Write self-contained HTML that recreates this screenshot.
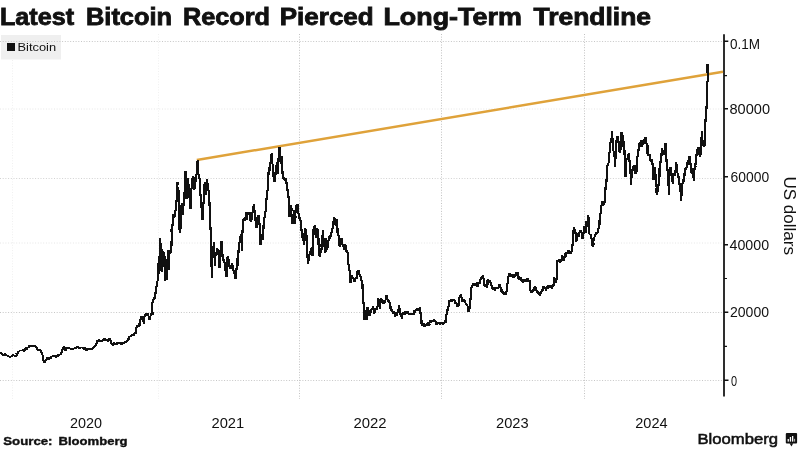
<!DOCTYPE html>
<html><head><meta charset="utf-8">
<style>
html,body{margin:0;padding:0;background:#fff;width:800px;height:450px;overflow:hidden;}
svg{display:block;will-change:transform;}
text{font-family:"Liberation Sans",sans-serif;}
</style></head><body>
<svg width="800" height="450" viewBox="0 0 800 450">
<rect width="800" height="450" fill="#fff"/>
<rect x="1" y="35" width="60" height="24.5" fill="#efefef"/>
<g stroke-width="1" fill="none">
<path stroke="#c6c6c6" stroke-dasharray="1 1.7" d="M0 41.5H723M0 312.5H723M0 380.5H723"/>
<path stroke="#d2d2d2" stroke-dasharray="1 1.7" d="M0 178.5H723"/>
<path stroke="#e6e6e6" stroke-dasharray="1 1.7" d="M0 109H723M0 243H723"/>
<path stroke="#c2c2c2" stroke-dasharray="1 1.64" d="M299.5 34V399M441.5 34V399M584.5 34V399"/>
<path stroke="#f0f0f0" stroke-dasharray="1 1.64" d="M12.5 60V399M158.5 34V399"/>
</g>
<rect x="7" y="43" width="8" height="8" fill="#111"/>
<text x="17.5" y="51.4" font-size="11.5" font-weight="normal" fill="#111" textLength="38.6" lengthAdjust="spacingAndGlyphs">Bitcoin</text>
<g font-size="24" font-weight="bold" fill="#111" stroke="#111" stroke-width="0.85"><text x="0.0" y="24.5" textLength="74.03" lengthAdjust="spacingAndGlyphs">Latest</text><text x="86" y="24.5" textLength="86.05" lengthAdjust="spacingAndGlyphs">Bitcoin</text><text x="183" y="24.5" textLength="87.05" lengthAdjust="spacingAndGlyphs">Record</text><text x="279.8" y="24.5" textLength="93.86" lengthAdjust="spacingAndGlyphs">Pierced</text><text x="383.4" y="24.5" textLength="138.44" lengthAdjust="spacingAndGlyphs">Long-Term</text><text x="533.6" y="24.5" textLength="117.4" lengthAdjust="spacingAndGlyphs">Trendline</text></g>
<path d="M724 34.3V396.6" stroke="#111" stroke-width="1.75"/>
<g stroke="#111" stroke-width="1.2">
<path stroke-width="1.6" d="M724 41.3H728.3M724 108.8H728M724 176.8H728M724 244.8H728M724 312.2H728.3M724 380.2H728.5"/>
<path stroke-width="1.1" d="M724 75.6H727M724 278.5H727M724 346.4H727"/>
</g>
<g><text x="730.0" y="48.75" font-size="15" font-weight="normal" fill="#111" textLength="30.1" lengthAdjust="spacingAndGlyphs">0.1M</text><text x="729.5" y="113.8" font-size="15" font-weight="normal" fill="#111" textLength="40.56" lengthAdjust="spacingAndGlyphs">80000</text><text x="730.5" y="181.9" font-size="15" font-weight="normal" fill="#111" textLength="38.61" lengthAdjust="spacingAndGlyphs">60000</text><text x="729.5" y="250" font-size="15" font-weight="normal" fill="#111" textLength="39.55" lengthAdjust="spacingAndGlyphs">40000</text><text x="730.0" y="317.2" font-size="15" font-weight="normal" fill="#111" textLength="39.03" lengthAdjust="spacingAndGlyphs">20000</text><text x="731.0" y="385.6" font-size="15" font-weight="normal" fill="#111" textLength="6.08" lengthAdjust="spacingAndGlyphs">0</text></g>
<text transform="translate(784,176.5) rotate(90)" font-size="17" fill="#111" textLength="78.5" lengthAdjust="spacingAndGlyphs">US dollars</text>
<g><text x="70.0" y="428" font-size="15" font-weight="normal" fill="#111" textLength="32.05" lengthAdjust="spacingAndGlyphs">2020</text><text x="211.5" y="428" font-size="15" font-weight="normal" fill="#111" textLength="32.69" lengthAdjust="spacingAndGlyphs">2021</text><text x="353.5" y="428" font-size="15" font-weight="normal" fill="#111" textLength="33.14" lengthAdjust="spacingAndGlyphs">2022</text><text x="496.0" y="428" font-size="15" font-weight="normal" fill="#111" textLength="32.62" lengthAdjust="spacingAndGlyphs">2023</text><text x="635.25" y="428" font-size="15" font-weight="normal" fill="#111" textLength="32.3" lengthAdjust="spacingAndGlyphs">2024</text></g>
<g font-size="10.6" font-weight="bold" fill="#111" stroke="#111" stroke-width="0.35"><text x="3.25" y="444.6" textLength="49.29" lengthAdjust="spacingAndGlyphs">Source:</text><text x="58.5" y="444.6" textLength="69.04" lengthAdjust="spacingAndGlyphs">Bloomberg</text></g>
<text x="697.5" y="444" font-size="15" font-weight="normal" fill="#111" stroke="#111" stroke-width="0.55" textLength="80.53" lengthAdjust="spacingAndGlyphs">Bloomberg</text>
<g>
<rect x="785.8" y="432.9" width="11.3" height="10.7" rx="1" fill="#111"/>
<path d="M789.5 443.2L791.5 446.6L793.2 443.2Z" fill="#111"/>
<g fill="#fff"><rect x="787.6" y="439" width="1.3" height="2.6"/><rect x="789.8" y="437" width="1.3" height="4.6"/><rect x="792" y="436" width="1.3" height="5.6"/><rect x="794.1" y="438.8" width="1" height="2.8" fill="#bbb"/></g>
</g>
<path d="M196.8 160L723 71.7" stroke="#dfa23a" stroke-width="2.5" fill="none"/>
<g fill="none" stroke="#111" stroke-width="1.15" stroke-linejoin="miter" stroke-miterlimit="3" shape-rendering="crispEdges"><path d="M0.0 351.9 0.5 352.2 0.5 352.8 1.2 353.0 1.3 353.3 2.1 354.2 2.5 355.0 2.6 355.3 3.0 355.0 3.4 354.1 3.9 354.8 4.6 353.9 5.0 354.4 5.3 353.8 6.1 354.8 6.1 355.0 6.5 355.3 7.3 355.6 7.5 355.6 8.0 356.1 8.2 356.5 8.4 356.2 8.9 356.4 9.4 356.5 10.0 356.9 10.5 356.3 11.1 356.1 11.4 356.3 11.7 356.1 12.4 356.3 12.5 355.6 13.3 355.7 12.9 355.3 13.3 355.0 14.0 355.8 14.6 356.2 14.8 355.9 15.3 355.9 15.6 355.4 16.1 355.2 16.2 355.6 17.0 354.8 16.6 354.0 17.5 354.1 18.0 352.8 18.1 353.1 18.3 351.4 18.5 351.4 19.2 351.9 19.3 351.3 20.0 350.6 20.6 350.7 20.7 350.7 21.5 350.6 21.7 350.7 22.4 350.4 22.5 350.0 22.7 350.6 23.2 349.5 24.0 349.6 23.7 351.1 24.4 350.6 24.6 350.0 25.2 349.3 25.6 348.1 25.6 347.9 26.3 347.8 27.1 347.6 27.3 348.5 27.5 348.1 28.1 347.2 28.0 347.3 29.0 347.8 29.4 346.5 29.3 346.1 30.0 346.2 30.5 346.4 30.6 346.3 31.0 346.0 31.3 345.7 31.8 345.8 32.5 345.6 32.5 346.1 33.6 346.2 33.6 345.8 34.0 345.8 34.9 345.9 35.0 346.2 35.8 346.9 35.4 346.7 35.8 347.8 36.8 348.0 36.9 348.8 37.0 349.3 37.7 350.5 37.7 349.9 38.4 349.7 38.8 350.0 39.5 350.1 39.3 350.7 39.8 349.9 40.3 350.8 40.6 350.6 41.3 352.1 41.7 352.3 41.9 353.1 42.7 355.6 43.0 358.1 43.1 360.0 43.7 360.7 43.9 362.0 44.4 363.1 44.4 362.6 45.0 361.7 45.6 360.6 46.2 359.7 46.8 358.9 46.9 357.5 47.7 357.9 47.4 358.6 47.8 358.6 48.5 359.1 48.8 359.4 49.5 359.2 49.7 358.8 50.2 357.9 50.7 358.1 51.1 357.7 51.2 356.9 51.4 356.8 52.3 356.1 52.9 355.8 52.8 356.5 53.5 355.2 53.8 355.6 53.9 356.1 54.9 356.0 55.2 356.1 55.8 356.5 56.0 356.8 56.2 356.2 56.4 355.9 56.7 356.2 57.5 356.2 58.3 355.4 58.6 354.5 58.8 355.0 58.9 355.0 59.4 354.6 60.1 354.7 60.1 354.2 61.2 354.4 61.2 353.8 61.7 352.1 62.4 351.2 62.5 349.4 62.9 348.0 63.3 348.7 63.6 347.9 63.8 347.4 64.4 346.9 64.5 349.0 65.2 349.6 65.6 350.6 65.8 349.9 66.4 348.8 66.4 347.8 67.2 347.6 67.5 347.5 68.1 347.6 68.3 348.3 69.1 347.4 69.1 347.9 69.6 348.0 70.0 348.8 70.6 348.5 70.8 348.5 71.6 349.4 72.0 349.3 71.9 348.8 72.5 350.0 73.2 348.3 73.0 348.5 73.4 349.0 74.0 348.7 74.8 348.7 75.0 347.5 75.7 347.9 76.0 347.8 76.0 348.0 76.4 348.2 77.4 346.3 77.5 346.9 78.3 346.5 78.6 347.5 78.8 347.8 79.0 348.2 79.8 348.1 80.0 348.1 80.0 348.6 80.4 347.7 81.1 347.8 81.3 347.6 82.5 347.6 82.5 348.1 82.6 348.5 83.1 347.3 83.6 349.3 83.9 349.3 84.8 348.3 85.0 349.4 85.2 349.7 85.8 350.0 86.3 350.1 86.7 349.5 86.8 349.2 87.4 350.1 87.9 349.7 87.7 349.8 88.7 349.5 88.8 348.8 89.2 348.6 89.9 349.0 90.0 349.1 90.2 349.4 90.5 349.6 91.2 349.4 91.4 349.3 92.3 348.7 92.3 348.8 92.8 347.9 92.9 347.8 93.8 347.5 94.4 347.0 94.6 346.6 95.3 346.2 95.1 346.0 95.8 345.3 96.2 344.4 97.0 342.3 97.2 341.1 97.7 340.3 98.3 341.0 98.5 340.0 98.8 341.2 98.7 339.9 99.4 340.0 99.5 340.4 100.0 341.3 100.3 341.2 101.2 341.9 101.5 341.7 101.7 341.1 101.9 340.8 102.4 340.8 102.6 340.5 103.5 340.3 103.3 340.2 103.9 338.9 104.6 339.1 104.2 339.1 104.9 340.0 105.1 339.0 105.7 339.8 106.1 340.0 106.1 340.6 106.8 340.3 107.0 340.4 107.4 340.5 108.1 339.9 108.3 340.6 108.9 339.8 109.1 339.6 109.4 338.6 110.0 339.4 110.5 340.6 110.8 341.7 111.1 342.8 111.8 344.4 112.1 344.4 112.1 344.4 112.8 345.0 113.2 343.8 113.8 343.4 114.2 344.2 114.4 343.2 114.8 343.3 115.0 343.9 115.1 343.7 115.6 343.8 116.1 344.5 116.6 344.3 116.8 343.0 117.2 343.3 117.2 342.7 118.0 343.6 118.4 342.6 118.9 343.3 118.9 343.4 119.7 344.0 119.6 344.0 120.2 343.8 120.6 343.9 120.9 342.5 121.6 342.6 121.9 343.6 122.0 343.4 122.5 343.3 123.1 343.4 123.1 342.9 123.9 343.3 124.4 343.3 124.8 342.8 125.0 342.0 125.3 341.4 126.0 341.1 126.1 341.1 126.2 340.9 126.4 341.9 127.2 340.6 127.5 341.1 127.7 339.2 128.3 340.0 128.4 339.0 129.1 339.3 129.4 336.7 130.1 337.2 129.9 336.9 130.9 336.4 131.1 334.9 131.3 335.3 131.7 335.0 131.7 335.8 132.4 335.8 132.7 334.8 133.1 334.8 133.9 334.8 134.3 335.4 134.4 333.9 134.5 333.4 135.5 333.5 135.6 331.7 136.1 328.0 136.3 327.3 137.3 326.6 137.3 327.3 137.4 325.9 138.0 326.0 138.0 326.1 138.6 326.4 139.5 325.8 139.5 324.0 140.0 320.0 140.4 319.5 140.5 319.3 141.4 316.2 141.5 317.0 142.1 318.7 142.6 316.3 142.7 316.1 143.0 318.0 143.5 319.6 143.6 321.6 144.0 324.0 144.2 321.3 144.3 317.3 145.0 316.0 145.3 315.5 145.5 314.5 146.0 314.0 146.8 313.7 146.6 315.9 147.2 314.6 147.5 315.0 147.8 314.5 148.0 315.6 148.9 316.3 149.0 316.0 149.5 320.0 150.0 317.0 150.7 315.6 151.1 315.2 151.0 314.5 151.1 313.8 151.4 314.3 151.9 313.9 152.5 314.0 152.3 308.0 152.5 302.0 152.6 301.7 153.4 299.0 153.5 300.0 153.8 297.9 154.2 297.4 154.5 299.0 155.0 298.0 155.5 293.0 156.0 287.0 156.8 286.3 156.8 283.3 156.8 283.2 157.8 279.9 157.8 281.0 158.1 266.4 158.3 263.7 159.0 262.0 159.4 273.5 159.7 246.0 159.9 241.8 160.3 238.3 160.8 262.0 161.3 243.0 161.6 272.0 162.0 249.3 162.4 251.3 163.2 252.2 163.3 251.0 163.3 252.2 164.0 254.0 164.3 267.0 165.0 264.3 165.0 256.0 165.2 280.6 165.7 259.0 166.1 271.0 166.5 276.4 167.0 279.8 167.3 272.1 167.7 264.0 168.3 257.0 168.3 250.0 168.8 270.0 169.3 253.0 170.0 254.2 170.0 252.0 170.2 250.0 170.9 251.8 171.3 251.3 171.7 236.0 171.5 229.0 172.0 227.2 172.4 227.3 172.8 220.1 173.0 218.0 173.0 214.1 174.0 216.7 174.2 216.4 174.5 215.0 174.7 216.4 175.3 214.2 175.5 210.0 176.0 209.0 176.2 205.2 176.5 201.0 176.9 195.6 177.2 186.9 177.5 182.0 177.4 187.4 178.5 189.8 178.5 195.0 179.0 215.0 179.4 223.4 179.5 229.5 180.0 233.0 180.1 227.4 180.5 227.7 181.0 220.0 181.0 214.1 181.6 204.7 182.0 203.0 182.1 206.2 182.4 207.9 183.0 215.0 183.0 205.9 183.8 205.7 184.0 205.0 184.1 198.5 184.8 189.8 184.9 175.0 185.5 171.0 186.1 182.1 186.0 189.5 186.5 199.0 186.7 196.8 187.5 198.0 187.5 190.0 188.0 178.0 188.2 181.8 188.7 187.4 188.8 188.6 189.5 197.0 189.7 195.5 189.9 205.4 190.5 209.0 191.0 190.0 191.0 191.5 192.0 186.5 192.0 178.0 192.7 179.6 193.1 177.0 193.0 175.8 193.5 177.5 194.1 181.1 193.9 189.9 194.5 185.9 195.0 189.0 195.2 182.7 195.6 181.1 196.0 177.9 196.5 174.0 197.2 171.3 196.9 165.2 197.5 161.0 198.1 160.4 198.2 171.5 198.5 175.0 199.0 174.0 199.7 180.6 200.0 184.7 200.0 188.0 200.0 195.6 201.0 193.7 200.8 204.2 201.5 207.0 202.2 212.6 202.0 216.1 202.5 220.0 202.7 214.3 203.0 203.0 203.5 203.0 203.7 200.3 204.4 192.0 204.2 186.2 205.0 182.0 205.5 188.3 206.0 194.6 206.0 195.0 206.0 188.4 207.0 184.4 207.0 179.0 207.7 185.2 207.7 183.5 208.1 188.5 208.5 190.0 209.1 197.6 209.4 201.1 209.7 209.2 210.0 213.0 210.5 229.0 210.8 231.4 211.3 240.0 211.7 278.0 212.3 265.3 212.5 255.0 212.5 253.2 213.0 249.9 213.3 248.8 214.0 242.0 214.2 252.8 215.1 258.4 215.0 265.0 215.1 265.9 215.3 255.5 216.0 255.0 216.5 254.0 216.6 251.9 217.0 248.0 217.5 249.8 217.9 252.7 218.3 252.1 218.5 253.0 218.5 254.4 219.2 263.1 219.5 268.0 219.7 262.4 220.0 259.0 220.5 255.0 220.6 248.9 221.2 247.8 221.5 241.0 221.7 249.6 222.2 246.1 222.5 255.0 222.7 259.8 223.6 260.5 223.3 258.8 224.0 263.0 224.6 261.8 225.1 264.8 224.8 267.4 225.5 267.0 225.6 271.0 226.5 275.9 226.5 277.0 226.7 270.4 227.0 265.0 227.5 257.0 228.1 256.7 228.3 259.6 228.7 259.8 229.0 261.0 229.1 263.1 229.5 266.2 230.2 266.5 230.5 268.0 230.6 269.2 231.4 268.0 231.4 265.5 232.0 264.0 232.6 265.2 232.8 268.0 233.0 269.4 233.5 270.0 233.9 272.3 234.0 273.2 234.9 274.8 234.9 276.0 235.5 279.0 236.2 275.8 236.1 270.9 236.5 268.0 236.8 268.9 237.1 269.1 237.5 265.0 237.6 257.2 237.8 256.0 238.5 253.0 238.7 245.0 239.5 242.7 239.5 241.7 240.0 243.0 240.5 237.0 241.1 237.4 240.8 234.6 241.5 235.0 242.0 251.0 242.5 231.0 242.9 228.4 242.9 222.2 243.7 218.6 244.0 220.0 244.1 217.6 244.6 221.1 244.9 217.6 245.6 217.6 246.0 219.0 246.2 219.6 246.5 211.6 247.2 220.4 247.2 212.8 248.0 213.0 248.7 214.4 248.9 212.3 249.4 213.5 249.4 211.8 250.0 213.0 250.6 211.6 250.4 220.2 251.0 221.0 251.4 219.6 251.7 219.2 252.3 216.2 252.5 212.0 253.2 211.8 253.5 211.7 253.3 207.6 254.0 204.0 254.4 210.0 254.7 213.1 255.0 219.0 255.3 219.6 255.8 221.7 256.1 222.3 256.5 228.0 256.8 225.2 257.2 224.2 257.5 217.0 257.7 218.0 258.2 217.1 258.4 214.6 259.0 216.0 259.0 218.7 259.6 225.1 260.0 230.0 260.5 245.0 261.0 239.0 261.3 239.3 261.3 237.4 262.0 234.0 262.5 235.7 262.9 237.3 263.0 240.0 263.3 231.8 263.6 225.1 264.0 218.0 264.7 217.7 265.1 214.8 264.9 212.9 265.5 212.0 266.0 205.0 266.7 196.9 267.0 194.5 267.0 196.0 267.1 191.7 267.8 190.0 268.0 184.4 268.0 183.0 268.6 172.2 269.4 174.8 269.4 173.3 269.5 167.8 270.0 166.7 270.4 163.6 271.2 158.3 271.3 157.0 271.7 153.3 271.9 159.7 272.2 163.3 272.8 164.4 273.3 175.6 274.0 178.7 273.8 177.4 274.4 182.2 275.0 172.4 275.3 177.1 275.6 172.2 275.9 171.8 276.4 169.1 276.7 162.2 277.4 163.2 277.5 173.8 277.8 172.2 278.3 157.8 278.6 159.5 279.4 153.2 279.4 147.2 279.9 150.1 280.2 153.1 280.6 162.2 280.7 163.6 281.6 158.5 281.7 155.6 282.2 172.2 282.4 173.6 283.0 170.7 283.3 178.9 283.9 177.3 283.8 177.8 284.3 179.6 285.0 180.0 285.4 178.4 286.2 178.4 286.4 182.6 286.7 182.2 286.7 186.6 287.1 190.5 287.8 190.0 288.0 193.7 288.5 196.0 289.0 208.0 289.4 211.3 289.4 216.8 290.0 216.0 290.5 205.0 290.6 206.6 291.6 208.6 291.3 213.6 292.0 217.0 292.4 220.3 292.6 224.2 293.0 223.0 293.1 216.2 293.7 217.5 294.0 210.0 294.2 215.6 295.0 217.9 295.0 224.0 295.5 216.6 295.3 213.6 296.0 209.0 296.4 210.4 296.4 206.0 297.3 206.3 297.5 204.0 298.2 210.6 298.0 211.0 298.6 214.3 299.0 216.0 299.4 219.4 299.5 218.6 300.0 218.0 300.2 218.2 300.9 223.4 301.0 222.0 301.5 229.7 301.9 237.5 302.0 238.0 302.3 237.4 302.4 234.8 303.0 233.0 303.0 234.6 303.5 240.6 304.0 245.0 304.5 240.5 304.8 233.6 305.0 230.0 305.1 228.6 305.9 230.2 306.0 235.0 306.4 235.3 307.0 237.8 307.0 240.0 307.1 250.8 307.5 256.8 308.0 264.0 308.2 261.7 308.9 259.3 309.0 253.8 309.5 255.0 309.7 253.8 310.6 250.9 310.8 248.2 311.0 249.0 311.8 248.0 311.9 248.3 312.4 254.1 312.5 256.0 312.9 244.6 313.0 240.0 313.5 231.0 313.5 230.4 314.6 231.4 314.3 227.5 315.0 225.0 315.7 230.0 315.3 233.1 316.0 238.0 316.0 236.7 316.9 232.6 317.3 228.0 317.5 229.0 317.7 234.5 318.4 237.3 318.5 239.0 318.5 245.4 319.5 244.0 319.3 255.2 320.0 256.0 320.1 252.5 321.0 252.5 321.4 251.1 321.5 249.0 322.0 241.7 322.1 236.0 322.8 234.8 323.0 230.0 323.1 234.6 323.4 237.2 323.9 243.9 324.5 246.0 324.7 247.7 325.0 253.1 325.5 252.0 326.0 238.0 326.6 244.8 326.8 245.4 327.0 249.0 327.3 248.8 328.0 245.3 328.2 240.5 328.5 240.0 328.6 241.3 329.5 239.1 329.4 236.5 330.0 236.0 330.6 236.4 331.1 234.3 331.1 235.7 331.5 232.0 332.1 230.4 332.1 228.7 332.9 228.1 333.0 223.0 333.2 221.4 333.4 224.4 334.0 217.5 334.1 219.4 334.9 218.1 335.3 225.4 335.5 224.0 336.1 225.4 336.1 220.3 336.5 220.0 336.7 222.2 337.5 228.4 337.5 232.0 337.5 233.0 338.6 235.4 338.6 238.2 339.0 238.0 339.1 237.8 339.6 245.8 340.0 246.0 340.6 241.0 340.9 240.7 340.8 238.6 341.5 238.0 342.1 241.6 341.9 241.1 342.5 245.0 342.8 243.7 343.0 246.8 343.6 245.3 344.0 249.0 344.2 249.0 344.6 246.9 344.9 245.9 345.3 244.7 346.0 246.0 346.4 246.9 346.4 251.0 347.0 251.0 347.7 253.1 347.8 256.7 348.0 258.0 348.0 264.0 348.6 265.2 349.0 264.0 349.5 270.8 349.6 270.4 350.0 273.0 350.5 283.0 350.5 281.1 350.9 280.0 351.5 275.0 351.8 276.1 352.5 277.3 352.7 277.4 353.0 279.0 353.4 277.9 353.7 280.4 354.4 281.1 354.7 281.1 355.0 280.0 355.6 278.9 356.0 277.7 356.5 278.5 356.9 278.0 357.0 277.0 357.5 272.6 357.5 271.4 358.0 271.0 358.5 270.0 359.0 273.6 359.3 274.5 359.5 274.0 359.8 274.9 360.2 276.0 360.8 277.1 361.0 280.0 361.7 280.2 362.0 283.6 362.0 286.6 362.5 286.0 362.5 288.4 363.2 296.9 363.5 303.0 364.0 310.0 364.5 320.0 365.2 317.5 365.2 315.0 365.5 310.0 365.9 314.8 366.3 317.7 366.5 320.0 367.1 314.8 367.2 311.6 367.5 308.0 367.6 307.0 368.3 310.3 368.5 310.0 368.5 310.8 369.6 314.8 369.5 316.0 369.7 314.5 370.2 313.3 370.6 312.6 371.0 310.0 371.6 309.7 371.6 308.4 372.4 308.8 372.4 309.0 373.0 307.0 373.6 308.3 373.5 309.4 374.3 311.8 374.5 313.0 374.9 312.6 375.3 309.7 375.5 310.2 376.0 309.0 376.5 309.9 376.7 309.4 377.0 306.0 377.5 307.0 378.0 299.0 378.6 299.4 378.6 301.3 379.0 303.0 379.2 305.5 379.5 306.4 380.0 309.0 379.9 304.5 380.8 301.8 381.0 298.0 381.2 298.9 381.7 300.9 382.3 299.6 382.5 302.0 382.8 302.7 382.9 304.0 383.9 302.2 384.0 303.0 384.1 303.9 385.0 300.6 384.7 300.4 385.5 300.0 386.2 298.6 385.9 297.2 386.3 295.7 387.0 295.5 387.3 296.7 387.5 299.9 387.9 301.0 388.5 300.0 389.2 301.2 389.4 302.3 389.9 304.4 390.0 308.0 390.1 308.7 390.9 307.0 391.1 307.4 391.5 310.0 392.2 310.0 392.0 310.6 392.3 311.8 393.0 313.0 393.4 312.6 393.5 312.9 394.2 312.1 394.9 312.8 395.0 313.0 395.3 315.7 395.8 315.0 396.0 314.4 396.5 316.0 396.8 312.7 397.4 313.0 397.7 311.4 398.0 310.0 398.5 309.8 399.0 307.2 399.0 305.0 399.3 306.3 399.7 312.7 400.0 313.0 400.5 314.7 400.9 315.0 401.0 315.0 401.5 317.0 401.9 317.5 402.0 313.6 402.6 313.4 403.0 313.0 403.7 312.1 403.6 313.8 404.2 314.2 404.4 313.0 405.0 314.0 405.5 311.1 406.0 312.5 406.0 312.2 406.7 313.1 407.0 312.0 407.0 311.3 408.0 311.2 407.8 313.9 408.4 312.9 409.0 314.0 409.7 314.7 409.9 314.5 410.5 313.7 410.7 313.1 411.0 315.0 411.6 313.6 411.9 313.6 412.4 314.2 412.6 313.9 412.8 314.5 413.5 314.5 413.5 313.3 414.4 313.4 414.6 310.2 415.1 312.1 415.5 311.0 415.7 309.1 416.1 309.8 416.6 311.2 417.0 310.0 417.0 309.0 417.8 309.0 418.4 310.1 418.5 310.0 418.9 309.6 418.9 310.1 419.5 308.1 420.0 308.0 420.5 313.0 421.2 312.8 421.1 316.7 421.4 319.6 421.7 325.6 422.2 324.4 422.3 324.5 422.5 324.0 423.3 323.3 423.8 323.8 423.7 325.7 424.7 326.3 425.0 325.3 425.0 325.4 425.6 325.6 425.6 325.4 426.6 324.7 426.9 324.5 426.7 323.5 427.4 323.5 427.8 324.4 428.5 322.8 428.7 323.4 428.5 325.3 429.5 324.6 429.3 323.0 430.0 322.2 430.1 321.6 431.0 323.1 431.0 321.6 431.5 321.5 431.5 320.2 432.2 321.1 432.8 321.2 433.0 319.9 433.2 321.4 434.0 319.3 434.3 321.0 434.4 320.0 434.5 320.3 435.6 321.2 435.5 321.9 436.1 323.3 436.6 322.4 437.0 324.8 437.1 323.6 437.6 322.4 438.2 324.2 438.7 322.4 438.9 323.9 439.1 322.4 439.7 324.2 440.2 323.8 440.2 324.3 441.2 322.4 441.4 323.8 441.6 322.4 442.2 323.3 442.7 323.8 443.3 321.8 443.4 322.3 443.9 322.8 444.4 322.9 444.3 323.7 444.8 321.3 445.0 320.9 445.6 321.7 446.1 315.6 446.7 313.5 446.8 313.6 447.2 310.0 447.8 310.9 447.7 310.0 448.3 307.8 449.0 304.1 449.1 302.5 449.4 302.2 449.6 299.9 450.0 301.3 450.6 301.8 451.1 300.6 451.5 301.6 451.6 299.4 451.8 300.7 452.3 301.1 453.0 299.8 453.3 299.4 453.8 300.1 453.9 299.7 454.1 300.4 455.2 301.2 455.3 302.6 455.6 302.2 455.8 302.3 456.8 304.2 457.0 303.9 457.2 306.1 457.4 307.0 457.7 304.6 458.1 305.4 458.9 305.6 458.9 303.1 459.6 297.1 460.0 296.1 460.8 295.1 460.9 297.1 461.2 297.2 461.7 297.8 461.9 301.2 462.5 302.1 462.8 301.1 463.3 299.6 463.5 299.6 464.4 299.6 464.4 300.6 465.2 301.3 465.1 302.0 465.6 303.0 466.1 303.3 466.8 306.3 466.6 304.0 467.5 306.1 467.8 306.7 468.3 312.2 469.1 309.5 469.2 310.2 469.4 308.9 470.2 305.5 470.3 301.1 470.6 297.8 471.1 290.0 471.8 286.3 472.0 285.0 472.2 285.6 472.5 285.6 473.0 283.7 473.3 284.2 474.0 284.0 474.6 283.7 474.6 283.4 475.0 285.1 475.9 284.6 476.0 283.0 476.1 285.8 476.8 282.0 477.5 286.1 477.7 286.1 478.0 285.0 478.7 283.8 478.8 284.4 479.0 283.3 479.2 282.7 480.0 283.0 480.0 280.8 481.0 277.6 481.0 278.0 481.1 276.9 481.6 278.5 481.9 277.6 482.5 276.0 482.9 275.7 482.9 275.9 484.0 280.1 484.0 279.0 484.5 284.9 484.4 285.5 485.0 286.0 485.2 285.4 485.5 286.5 486.5 284.9 486.5 287.0 487.2 287.5 487.5 283.9 487.5 280.0 487.5 281.3 488.7 280.4 488.3 279.3 488.8 281.0 489.5 281.0 489.5 280.5 490.0 283.2 490.6 281.8 491.0 284.0 491.4 285.6 491.5 285.6 492.3 288.0 492.5 288.0 492.7 290.0 493.4 289.4 493.7 289.1 494.2 288.8 494.5 289.0 495.1 289.9 495.1 289.9 495.4 287.9 496.3 288.5 496.5 289.0 496.5 287.2 497.5 288.7 497.9 287.1 498.0 288.0 498.7 286.5 498.7 285.9 498.9 285.8 499.5 284.0 500.1 284.6 500.1 285.8 500.7 288.2 501.0 289.0 501.4 291.4 501.8 290.6 502.5 292.5 502.9 293.0 503.0 292.0 503.3 291.7 504.0 294.0 504.5 294.0 504.5 293.0 504.8 295.3 505.2 293.0 505.5 295.0 505.5 293.6 506.0 293.9 506.3 292.0 507.0 291.0 507.0 287.0 507.3 285.8 508.0 279.0 508.0 278.0 508.8 275.6 509.3 273.3 509.5 274.0 509.6 273.5 509.9 277.0 510.3 274.7 511.0 277.0 511.2 274.4 511.5 275.8 512.3 275.0 512.9 275.7 513.0 275.0 513.6 276.5 513.5 277.1 514.1 277.1 514.5 273.9 515.0 276.0 515.3 276.0 516.2 273.4 516.0 274.4 516.5 272.5 517.0 273.5 517.6 272.4 518.0 276.7 518.0 277.0 518.0 278.8 518.8 275.9 519.0 280.1 519.5 278.2 520.0 279.0 520.4 278.1 520.5 278.1 520.8 277.9 521.3 280.2 522.0 280.0 522.7 282.6 522.9 280.6 523.5 282.1 523.2 278.9 524.0 281.5 524.5 280.1 524.6 280.1 525.3 279.9 525.4 279.9 526.0 281.0 526.7 278.4 526.6 279.1 526.8 278.2 527.5 278.5 528.0 281.1 528.1 281.9 528.6 280.3 529.0 281.0 529.0 280.1 529.4 280.6 530.0 281.0 530.5 291.0 530.7 290.6 531.0 292.0 531.9 292.0 532.0 291.0 532.5 292.0 532.6 289.9 533.4 289.9 533.7 289.9 534.0 291.0 534.4 289.8 534.5 288.1 535.1 288.2 535.5 286.0 535.4 286.4 536.0 290.3 536.5 291.0 536.9 292.1 537.3 291.0 537.5 290.9 538.3 293.5 538.5 292.5 539.2 293.9 539.2 293.9 539.6 295.0 540.0 294.0 540.6 294.0 541.2 293.3 541.4 292.4 541.5 291.7 542.0 290.0 542.5 290.8 543.1 287.4 543.2 286.9 543.8 287.8 544.0 288.0 544.4 286.9 545.1 288.8 544.9 287.1 545.8 289.3 546.0 290.0 546.5 289.2 546.9 285.9 547.1 287.5 547.7 288.1 548.0 287.0 548.3 285.6 549.0 285.6 549.0 286.9 549.5 285.6 549.8 287.7 550.3 287.6 550.7 285.6 551.1 286.7 551.2 286.7 552.0 287.8 552.7 286.4 552.8 286.7 553.0 284.8 553.9 285.2 553.9 282.2 554.0 279.0 554.2 277.8 555.0 278.9 555.0 281.2 556.1 280.4 556.1 283.3 556.6 279.0 556.7 276.7 556.8 266.7 557.1 261.0 557.5 261.0 557.8 262.2 558.1 260.6 558.7 259.9 559.1 259.9 559.4 261.1 559.8 262.3 560.1 262.3 560.6 262.0 561.3 258.8 561.3 258.8 561.7 260.0 562.5 256.8 562.3 259.6 562.5 256.6 563.0 257.2 563.5 261.2 563.9 257.8 564.0 256.5 564.9 257.2 565.0 253.3 565.8 253.1 565.5 256.8 566.1 256.7 566.4 254.5 566.7 252.0 567.1 252.7 567.8 252.2 568.1 251.0 569.0 251.0 568.9 252.2 569.4 253.3 570.1 252.1 569.9 251.0 570.5 254.3 571.1 251.1 571.6 252.3 571.6 247.8 572.2 248.9 572.3 244.3 572.8 245.6 572.9 237.2 573.4 234.6 573.7 228.0 574.0 228.3 574.4 229.4 575.0 230.9 574.9 232.7 575.6 232.8 576.1 241.7 576.5 240.7 577.1 238.3 577.2 235.0 577.3 233.7 577.7 233.7 578.6 236.3 578.9 237.2 579.1 233.0 579.3 233.3 580.0 230.6 580.7 232.8 580.8 230.2 581.2 230.9 581.7 232.8 582.1 238.4 582.8 238.1 582.8 237.2 583.0 232.3 583.2 232.9 583.9 234.0 584.4 227.2 585.1 228.0 585.3 231.5 585.6 232.8 586.3 227.8 586.1 221.4 586.7 222.8 587.0 223.2 587.3 225.2 587.8 227.2 588.3 215.0 588.9 222.1 588.9 232.8 589.1 231.4 589.5 234.0 590.6 234.3 590.6 236.1 590.8 238.4 591.4 238.1 591.7 239.7 592.2 241.7 592.2 243.5 592.8 246.7 593.5 244.6 593.4 241.1 593.8 240.7 594.4 237.2 595.0 236.1 595.1 235.1 595.3 235.2 596.1 231.7 596.3 234.1 596.9 233.5 597.6 231.8 597.8 232.8 598.0 231.2 598.7 227.8 598.9 227.2 599.0 220.0 600.0 225.4 600.0 219.4 600.3 215.0 600.6 212.8 601.1 207.2 601.2 205.4 602.2 203.6 602.2 202.8 602.6 201.4 603.0 202.5 603.3 205.0 603.4 205.0 604.0 204.0 604.4 201.7 604.7 201.6 605.0 203.0 605.5 189.0 605.7 185.2 606.3 188.0 606.5 180.0 607.0 172.0 607.2 168.2 607.3 165.9 608.0 165.0 608.2 163.3 608.8 162.9 609.0 152.0 609.3 153.7 609.8 151.4 610.0 145.6 610.5 143.0 610.7 141.4 611.1 141.5 611.5 139.2 612.0 131.0 612.6 142.2 613.0 138.2 613.0 145.0 613.0 149.0 613.9 152.4 614.1 151.3 614.5 155.0 615.0 167.0 615.5 158.4 615.9 154.2 616.0 150.0 616.2 143.5 616.4 140.5 617.0 139.0 617.7 136.4 617.3 137.0 618.0 137.5 618.0 135.7 618.6 143.4 619.1 148.3 619.7 152.5 620.0 152.0 620.1 150.4 620.8 148.8 621.0 143.0 621.1 136.5 621.5 132.2 622.0 134.0 622.0 137.1 622.6 141.5 622.8 135.2 623.5 142.0 623.5 147.1 624.0 144.5 624.5 151.0 625.0 172.0 625.5 177.0 626.0 168.0 626.5 158.0 626.6 159.7 627.6 159.7 627.8 155.9 628.0 154.0 628.3 154.5 628.6 157.1 628.8 152.8 629.5 161.0 630.0 167.0 630.7 174.9 630.8 178.3 631.0 185.0 631.4 179.4 631.6 169.0 632.0 170.0 632.3 171.6 632.8 170.4 633.3 169.0 633.5 166.0 633.5 167.2 634.1 167.2 634.7 164.6 635.0 172.0 635.4 173.6 635.5 171.8 636.1 173.6 636.5 172.0 637.0 159.0 637.1 158.5 637.9 154.2 638.3 153.9 638.5 150.0 638.8 148.2 639.1 148.1 639.5 143.0 639.7 144.8 640.6 141.9 640.5 144.8 641.0 142.0 641.6 146.8 641.5 140.2 642.3 141.4 642.5 145.0 643.1 140.1 643.5 139.9 643.5 143.6 644.0 141.0 644.1 142.3 644.5 142.3 645.3 139.8 645.5 137.0 645.7 137.6 646.1 141.3 646.5 143.0 646.5 142.6 646.8 146.4 647.5 146.0 647.5 154.2 648.4 150.9 648.3 155.7 649.0 154.0 649.4 155.6 649.8 154.4 649.8 158.1 650.7 161.7 651.0 160.0 651.7 159.3 651.5 159.7 651.8 159.8 652.5 163.0 653.0 178.0 653.6 179.6 653.5 177.9 654.0 175.0 654.6 174.5 655.0 174.4 655.0 167.0 655.6 176.0 655.9 183.1 656.0 183.0 656.6 187.2 656.5 192.7 657.0 195.0 657.3 190.4 658.0 192.3 658.2 188.0 658.5 185.0 658.9 180.7 659.5 176.6 659.5 169.0 660.2 162.8 659.9 161.3 660.5 163.0 660.7 159.8 661.3 156.9 661.5 156.0 661.6 153.0 661.8 148.2 662.5 150.0 662.5 152.2 663.4 149.7 663.2 152.7 664.0 153.0 664.6 154.7 664.6 148.2 665.0 150.0 665.5 143.5 666.0 158.0 666.3 156.6 666.6 161.7 667.0 160.0 667.5 170.0 668.0 173.7 668.4 182.0 668.5 184.0 669.0 195.0 669.5 173.0 669.7 173.5 670.1 169.0 670.5 168.0 670.6 167.1 670.8 170.3 671.5 174.0 672.2 174.8 672.5 182.0 672.5 182.0 673.2 183.6 673.3 173.4 673.8 176.1 674.0 175.0 674.5 173.1 675.1 172.1 675.1 176.4 675.5 172.0 676.0 162.0 676.2 163.8 677.0 164.9 677.0 170.0 677.5 173.1 677.7 173.7 678.0 177.6 678.5 176.0 678.9 181.6 679.3 178.4 679.5 184.8 680.0 186.0 680.6 192.3 680.7 196.8 681.0 200.0 681.1 201.2 681.3 198.0 682.0 190.0 682.3 185.4 682.7 182.6 683.0 180.0 683.1 179.4 683.8 181.6 684.1 176.7 684.5 176.0 684.5 173.3 685.2 168.3 685.5 170.0 686.0 169.4 686.6 166.8 686.8 163.2 687.0 163.0 687.3 164.7 687.5 164.7 688.3 164.7 688.5 162.0 688.5 160.0 689.0 158.2 689.5 156.0 689.7 157.2 689.9 164.7 690.5 163.0 690.7 167.6 691.5 169.0 691.5 173.0 692.0 168.9 692.6 173.7 692.9 168.3 693.0 170.0 693.2 175.1 693.9 180.6 694.0 179.0 694.0 174.5 694.6 168.3 695.0 170.0 695.5 166.5 695.3 163.3 696.0 165.0 696.5 155.0 696.9 150.0 697.4 149.4 697.5 149.0 698.0 150.7 698.0 150.7 698.5 147.0 699.1 151.6 699.2 154.7 699.5 153.0 700.0 157.0 700.0 156.0 700.9 153.1 701.0 150.0 701.3 145.0 701.8 131.5 702.0 137.8 702.5 140.0 703.0 146.4 703.5 142.8 703.5 145.0 704.0 146.6 704.7 143.5 704.8 146.0 705.1 122.0 705.1 119.6 705.9 121.5 706.0 109.0 706.5 106.5 706.9 108.5 707.0 81.0 707.7 82.4 707.5 81.4 708.2 80.5 708.2 72.5 708.1 71.4 707.5 72.5 707.5 63.5" transform="translate(-0.5,0)"/><path d="M0.0 351.9 0.5 352.2 0.5 352.8 1.2 353.0 1.3 353.3 2.1 354.2 2.5 355.0 2.6 355.3 3.0 355.0 3.4 354.1 3.9 354.8 4.6 353.9 5.0 354.4 5.3 353.8 6.1 354.8 6.1 355.0 6.5 355.3 7.3 355.6 7.5 355.6 8.0 356.1 8.2 356.5 8.4 356.2 8.9 356.4 9.4 356.5 10.0 356.9 10.5 356.3 11.1 356.1 11.4 356.3 11.7 356.1 12.4 356.3 12.5 355.6 13.3 355.7 12.9 355.3 13.3 355.0 14.0 355.8 14.6 356.2 14.8 355.9 15.3 355.9 15.6 355.4 16.1 355.2 16.2 355.6 17.0 354.8 16.6 354.0 17.5 354.1 18.0 352.8 18.1 353.1 18.3 351.4 18.5 351.4 19.2 351.9 19.3 351.3 20.0 350.6 20.6 350.7 20.7 350.7 21.5 350.6 21.7 350.7 22.4 350.4 22.5 350.0 22.7 350.6 23.2 349.5 24.0 349.6 23.7 351.1 24.4 350.6 24.6 350.0 25.2 349.3 25.6 348.1 25.6 347.9 26.3 347.8 27.1 347.6 27.3 348.5 27.5 348.1 28.1 347.2 28.0 347.3 29.0 347.8 29.4 346.5 29.3 346.1 30.0 346.2 30.5 346.4 30.6 346.3 31.0 346.0 31.3 345.7 31.8 345.8 32.5 345.6 32.5 346.1 33.6 346.2 33.6 345.8 34.0 345.8 34.9 345.9 35.0 346.2 35.8 346.9 35.4 346.7 35.8 347.8 36.8 348.0 36.9 348.8 37.0 349.3 37.7 350.5 37.7 349.9 38.4 349.7 38.8 350.0 39.5 350.1 39.3 350.7 39.8 349.9 40.3 350.8 40.6 350.6 41.3 352.1 41.7 352.3 41.9 353.1 42.7 355.6 43.0 358.1 43.1 360.0 43.7 360.7 43.9 362.0 44.4 363.1 44.4 362.6 45.0 361.7 45.6 360.6 46.2 359.7 46.8 358.9 46.9 357.5 47.7 357.9 47.4 358.6 47.8 358.6 48.5 359.1 48.8 359.4 49.5 359.2 49.7 358.8 50.2 357.9 50.7 358.1 51.1 357.7 51.2 356.9 51.4 356.8 52.3 356.1 52.9 355.8 52.8 356.5 53.5 355.2 53.8 355.6 53.9 356.1 54.9 356.0 55.2 356.1 55.8 356.5 56.0 356.8 56.2 356.2 56.4 355.9 56.7 356.2 57.5 356.2 58.3 355.4 58.6 354.5 58.8 355.0 58.9 355.0 59.4 354.6 60.1 354.7 60.1 354.2 61.2 354.4 61.2 353.8 61.7 352.1 62.4 351.2 62.5 349.4 62.9 348.0 63.3 348.7 63.6 347.9 63.8 347.4 64.4 346.9 64.5 349.0 65.2 349.6 65.6 350.6 65.8 349.9 66.4 348.8 66.4 347.8 67.2 347.6 67.5 347.5 68.1 347.6 68.3 348.3 69.1 347.4 69.1 347.9 69.6 348.0 70.0 348.8 70.6 348.5 70.8 348.5 71.6 349.4 72.0 349.3 71.9 348.8 72.5 350.0 73.2 348.3 73.0 348.5 73.4 349.0 74.0 348.7 74.8 348.7 75.0 347.5 75.7 347.9 76.0 347.8 76.0 348.0 76.4 348.2 77.4 346.3 77.5 346.9 78.3 346.5 78.6 347.5 78.8 347.8 79.0 348.2 79.8 348.1 80.0 348.1 80.0 348.6 80.4 347.7 81.1 347.8 81.3 347.6 82.5 347.6 82.5 348.1 82.6 348.5 83.1 347.3 83.6 349.3 83.9 349.3 84.8 348.3 85.0 349.4 85.2 349.7 85.8 350.0 86.3 350.1 86.7 349.5 86.8 349.2 87.4 350.1 87.9 349.7 87.7 349.8 88.7 349.5 88.8 348.8 89.2 348.6 89.9 349.0 90.0 349.1 90.2 349.4 90.5 349.6 91.2 349.4 91.4 349.3 92.3 348.7 92.3 348.8 92.8 347.9 92.9 347.8 93.8 347.5 94.4 347.0 94.6 346.6 95.3 346.2 95.1 346.0 95.8 345.3 96.2 344.4 97.0 342.3 97.2 341.1 97.7 340.3 98.3 341.0 98.5 340.0 98.8 341.2 98.7 339.9 99.4 340.0 99.5 340.4 100.0 341.3 100.3 341.2 101.2 341.9 101.5 341.7 101.7 341.1 101.9 340.8 102.4 340.8 102.6 340.5 103.5 340.3 103.3 340.2 103.9 338.9 104.6 339.1 104.2 339.1 104.9 340.0 105.1 339.0 105.7 339.8 106.1 340.0 106.1 340.6 106.8 340.3 107.0 340.4 107.4 340.5 108.1 339.9 108.3 340.6 108.9 339.8 109.1 339.6 109.4 338.6 110.0 339.4 110.5 340.6 110.8 341.7 111.1 342.8 111.8 344.4 112.1 344.4 112.1 344.4 112.8 345.0 113.2 343.8 113.8 343.4 114.2 344.2 114.4 343.2 114.8 343.3 115.0 343.9 115.1 343.7 115.6 343.8 116.1 344.5 116.6 344.3 116.8 343.0 117.2 343.3 117.2 342.7 118.0 343.6 118.4 342.6 118.9 343.3 118.9 343.4 119.7 344.0 119.6 344.0 120.2 343.8 120.6 343.9 120.9 342.5 121.6 342.6 121.9 343.6 122.0 343.4 122.5 343.3 123.1 343.4 123.1 342.9 123.9 343.3 124.4 343.3 124.8 342.8 125.0 342.0 125.3 341.4 126.0 341.1 126.1 341.1 126.2 340.9 126.4 341.9 127.2 340.6 127.5 341.1 127.7 339.2 128.3 340.0 128.4 339.0 129.1 339.3 129.4 336.7 130.1 337.2 129.9 336.9 130.9 336.4 131.1 334.9 131.3 335.3 131.7 335.0 131.7 335.8 132.4 335.8 132.7 334.8 133.1 334.8 133.9 334.8 134.3 335.4 134.4 333.9 134.5 333.4 135.5 333.5 135.6 331.7 136.1 328.0 136.3 327.3 137.3 326.6 137.3 327.3 137.4 325.9 138.0 326.0 138.0 326.1 138.6 326.4 139.5 325.8 139.5 324.0 140.0 320.0 140.4 319.5 140.5 319.3 141.4 316.2 141.5 317.0 142.1 318.7 142.6 316.3 142.7 316.1 143.0 318.0 143.5 319.6 143.6 321.6 144.0 324.0 144.2 321.3 144.3 317.3 145.0 316.0 145.3 315.5 145.5 314.5 146.0 314.0 146.8 313.7 146.6 315.9 147.2 314.6 147.5 315.0 147.8 314.5 148.0 315.6 148.9 316.3 149.0 316.0 149.5 320.0 150.0 317.0 150.7 315.6 151.1 315.2 151.0 314.5 151.1 313.8 151.4 314.3 151.9 313.9 152.5 314.0 152.3 308.0 152.5 302.0 152.6 301.7 153.4 299.0 153.5 300.0 153.8 297.9 154.2 297.4 154.5 299.0 155.0 298.0 155.5 293.0 156.0 287.0 156.8 286.3 156.8 283.3 156.8 283.2 157.8 279.9 157.8 281.0 158.1 266.4 158.3 263.7 159.0 262.0 159.4 273.5 159.7 246.0 159.9 241.8 160.3 238.3 160.8 262.0 161.3 243.0 161.6 272.0 162.0 249.3 162.4 251.3 163.2 252.2 163.3 251.0 163.3 252.2 164.0 254.0 164.3 267.0 165.0 264.3 165.0 256.0 165.2 280.6 165.7 259.0 166.1 271.0 166.5 276.4 167.0 279.8 167.3 272.1 167.7 264.0 168.3 257.0 168.3 250.0 168.8 270.0 169.3 253.0 170.0 254.2 170.0 252.0 170.2 250.0 170.9 251.8 171.3 251.3 171.7 236.0 171.5 229.0 172.0 227.2 172.4 227.3 172.8 220.1 173.0 218.0 173.0 214.1 174.0 216.7 174.2 216.4 174.5 215.0 174.7 216.4 175.3 214.2 175.5 210.0 176.0 209.0 176.2 205.2 176.5 201.0 176.9 195.6 177.2 186.9 177.5 182.0 177.4 187.4 178.5 189.8 178.5 195.0 179.0 215.0 179.4 223.4 179.5 229.5 180.0 233.0 180.1 227.4 180.5 227.7 181.0 220.0 181.0 214.1 181.6 204.7 182.0 203.0 182.1 206.2 182.4 207.9 183.0 215.0 183.0 205.9 183.8 205.7 184.0 205.0 184.1 198.5 184.8 189.8 184.9 175.0 185.5 171.0 186.1 182.1 186.0 189.5 186.5 199.0 186.7 196.8 187.5 198.0 187.5 190.0 188.0 178.0 188.2 181.8 188.7 187.4 188.8 188.6 189.5 197.0 189.7 195.5 189.9 205.4 190.5 209.0 191.0 190.0 191.0 191.5 192.0 186.5 192.0 178.0 192.7 179.6 193.1 177.0 193.0 175.8 193.5 177.5 194.1 181.1 193.9 189.9 194.5 185.9 195.0 189.0 195.2 182.7 195.6 181.1 196.0 177.9 196.5 174.0 197.2 171.3 196.9 165.2 197.5 161.0 198.1 160.4 198.2 171.5 198.5 175.0 199.0 174.0 199.7 180.6 200.0 184.7 200.0 188.0 200.0 195.6 201.0 193.7 200.8 204.2 201.5 207.0 202.2 212.6 202.0 216.1 202.5 220.0 202.7 214.3 203.0 203.0 203.5 203.0 203.7 200.3 204.4 192.0 204.2 186.2 205.0 182.0 205.5 188.3 206.0 194.6 206.0 195.0 206.0 188.4 207.0 184.4 207.0 179.0 207.7 185.2 207.7 183.5 208.1 188.5 208.5 190.0 209.1 197.6 209.4 201.1 209.7 209.2 210.0 213.0 210.5 229.0 210.8 231.4 211.3 240.0 211.7 278.0 212.3 265.3 212.5 255.0 212.5 253.2 213.0 249.9 213.3 248.8 214.0 242.0 214.2 252.8 215.1 258.4 215.0 265.0 215.1 265.9 215.3 255.5 216.0 255.0 216.5 254.0 216.6 251.9 217.0 248.0 217.5 249.8 217.9 252.7 218.3 252.1 218.5 253.0 218.5 254.4 219.2 263.1 219.5 268.0 219.7 262.4 220.0 259.0 220.5 255.0 220.6 248.9 221.2 247.8 221.5 241.0 221.7 249.6 222.2 246.1 222.5 255.0 222.7 259.8 223.6 260.5 223.3 258.8 224.0 263.0 224.6 261.8 225.1 264.8 224.8 267.4 225.5 267.0 225.6 271.0 226.5 275.9 226.5 277.0 226.7 270.4 227.0 265.0 227.5 257.0 228.1 256.7 228.3 259.6 228.7 259.8 229.0 261.0 229.1 263.1 229.5 266.2 230.2 266.5 230.5 268.0 230.6 269.2 231.4 268.0 231.4 265.5 232.0 264.0 232.6 265.2 232.8 268.0 233.0 269.4 233.5 270.0 233.9 272.3 234.0 273.2 234.9 274.8 234.9 276.0 235.5 279.0 236.2 275.8 236.1 270.9 236.5 268.0 236.8 268.9 237.1 269.1 237.5 265.0 237.6 257.2 237.8 256.0 238.5 253.0 238.7 245.0 239.5 242.7 239.5 241.7 240.0 243.0 240.5 237.0 241.1 237.4 240.8 234.6 241.5 235.0 242.0 251.0 242.5 231.0 242.9 228.4 242.9 222.2 243.7 218.6 244.0 220.0 244.1 217.6 244.6 221.1 244.9 217.6 245.6 217.6 246.0 219.0 246.2 219.6 246.5 211.6 247.2 220.4 247.2 212.8 248.0 213.0 248.7 214.4 248.9 212.3 249.4 213.5 249.4 211.8 250.0 213.0 250.6 211.6 250.4 220.2 251.0 221.0 251.4 219.6 251.7 219.2 252.3 216.2 252.5 212.0 253.2 211.8 253.5 211.7 253.3 207.6 254.0 204.0 254.4 210.0 254.7 213.1 255.0 219.0 255.3 219.6 255.8 221.7 256.1 222.3 256.5 228.0 256.8 225.2 257.2 224.2 257.5 217.0 257.7 218.0 258.2 217.1 258.4 214.6 259.0 216.0 259.0 218.7 259.6 225.1 260.0 230.0 260.5 245.0 261.0 239.0 261.3 239.3 261.3 237.4 262.0 234.0 262.5 235.7 262.9 237.3 263.0 240.0 263.3 231.8 263.6 225.1 264.0 218.0 264.7 217.7 265.1 214.8 264.9 212.9 265.5 212.0 266.0 205.0 266.7 196.9 267.0 194.5 267.0 196.0 267.1 191.7 267.8 190.0 268.0 184.4 268.0 183.0 268.6 172.2 269.4 174.8 269.4 173.3 269.5 167.8 270.0 166.7 270.4 163.6 271.2 158.3 271.3 157.0 271.7 153.3 271.9 159.7 272.2 163.3 272.8 164.4 273.3 175.6 274.0 178.7 273.8 177.4 274.4 182.2 275.0 172.4 275.3 177.1 275.6 172.2 275.9 171.8 276.4 169.1 276.7 162.2 277.4 163.2 277.5 173.8 277.8 172.2 278.3 157.8 278.6 159.5 279.4 153.2 279.4 147.2 279.9 150.1 280.2 153.1 280.6 162.2 280.7 163.6 281.6 158.5 281.7 155.6 282.2 172.2 282.4 173.6 283.0 170.7 283.3 178.9 283.9 177.3 283.8 177.8 284.3 179.6 285.0 180.0 285.4 178.4 286.2 178.4 286.4 182.6 286.7 182.2 286.7 186.6 287.1 190.5 287.8 190.0 288.0 193.7 288.5 196.0 289.0 208.0 289.4 211.3 289.4 216.8 290.0 216.0 290.5 205.0 290.6 206.6 291.6 208.6 291.3 213.6 292.0 217.0 292.4 220.3 292.6 224.2 293.0 223.0 293.1 216.2 293.7 217.5 294.0 210.0 294.2 215.6 295.0 217.9 295.0 224.0 295.5 216.6 295.3 213.6 296.0 209.0 296.4 210.4 296.4 206.0 297.3 206.3 297.5 204.0 298.2 210.6 298.0 211.0 298.6 214.3 299.0 216.0 299.4 219.4 299.5 218.6 300.0 218.0 300.2 218.2 300.9 223.4 301.0 222.0 301.5 229.7 301.9 237.5 302.0 238.0 302.3 237.4 302.4 234.8 303.0 233.0 303.0 234.6 303.5 240.6 304.0 245.0 304.5 240.5 304.8 233.6 305.0 230.0 305.1 228.6 305.9 230.2 306.0 235.0 306.4 235.3 307.0 237.8 307.0 240.0 307.1 250.8 307.5 256.8 308.0 264.0 308.2 261.7 308.9 259.3 309.0 253.8 309.5 255.0 309.7 253.8 310.6 250.9 310.8 248.2 311.0 249.0 311.8 248.0 311.9 248.3 312.4 254.1 312.5 256.0 312.9 244.6 313.0 240.0 313.5 231.0 313.5 230.4 314.6 231.4 314.3 227.5 315.0 225.0 315.7 230.0 315.3 233.1 316.0 238.0 316.0 236.7 316.9 232.6 317.3 228.0 317.5 229.0 317.7 234.5 318.4 237.3 318.5 239.0 318.5 245.4 319.5 244.0 319.3 255.2 320.0 256.0 320.1 252.5 321.0 252.5 321.4 251.1 321.5 249.0 322.0 241.7 322.1 236.0 322.8 234.8 323.0 230.0 323.1 234.6 323.4 237.2 323.9 243.9 324.5 246.0 324.7 247.7 325.0 253.1 325.5 252.0 326.0 238.0 326.6 244.8 326.8 245.4 327.0 249.0 327.3 248.8 328.0 245.3 328.2 240.5 328.5 240.0 328.6 241.3 329.5 239.1 329.4 236.5 330.0 236.0 330.6 236.4 331.1 234.3 331.1 235.7 331.5 232.0 332.1 230.4 332.1 228.7 332.9 228.1 333.0 223.0 333.2 221.4 333.4 224.4 334.0 217.5 334.1 219.4 334.9 218.1 335.3 225.4 335.5 224.0 336.1 225.4 336.1 220.3 336.5 220.0 336.7 222.2 337.5 228.4 337.5 232.0 337.5 233.0 338.6 235.4 338.6 238.2 339.0 238.0 339.1 237.8 339.6 245.8 340.0 246.0 340.6 241.0 340.9 240.7 340.8 238.6 341.5 238.0 342.1 241.6 341.9 241.1 342.5 245.0 342.8 243.7 343.0 246.8 343.6 245.3 344.0 249.0 344.2 249.0 344.6 246.9 344.9 245.9 345.3 244.7 346.0 246.0 346.4 246.9 346.4 251.0 347.0 251.0 347.7 253.1 347.8 256.7 348.0 258.0 348.0 264.0 348.6 265.2 349.0 264.0 349.5 270.8 349.6 270.4 350.0 273.0 350.5 283.0 350.5 281.1 350.9 280.0 351.5 275.0 351.8 276.1 352.5 277.3 352.7 277.4 353.0 279.0 353.4 277.9 353.7 280.4 354.4 281.1 354.7 281.1 355.0 280.0 355.6 278.9 356.0 277.7 356.5 278.5 356.9 278.0 357.0 277.0 357.5 272.6 357.5 271.4 358.0 271.0 358.5 270.0 359.0 273.6 359.3 274.5 359.5 274.0 359.8 274.9 360.2 276.0 360.8 277.1 361.0 280.0 361.7 280.2 362.0 283.6 362.0 286.6 362.5 286.0 362.5 288.4 363.2 296.9 363.5 303.0 364.0 310.0 364.5 320.0 365.2 317.5 365.2 315.0 365.5 310.0 365.9 314.8 366.3 317.7 366.5 320.0 367.1 314.8 367.2 311.6 367.5 308.0 367.6 307.0 368.3 310.3 368.5 310.0 368.5 310.8 369.6 314.8 369.5 316.0 369.7 314.5 370.2 313.3 370.6 312.6 371.0 310.0 371.6 309.7 371.6 308.4 372.4 308.8 372.4 309.0 373.0 307.0 373.6 308.3 373.5 309.4 374.3 311.8 374.5 313.0 374.9 312.6 375.3 309.7 375.5 310.2 376.0 309.0 376.5 309.9 376.7 309.4 377.0 306.0 377.5 307.0 378.0 299.0 378.6 299.4 378.6 301.3 379.0 303.0 379.2 305.5 379.5 306.4 380.0 309.0 379.9 304.5 380.8 301.8 381.0 298.0 381.2 298.9 381.7 300.9 382.3 299.6 382.5 302.0 382.8 302.7 382.9 304.0 383.9 302.2 384.0 303.0 384.1 303.9 385.0 300.6 384.7 300.4 385.5 300.0 386.2 298.6 385.9 297.2 386.3 295.7 387.0 295.5 387.3 296.7 387.5 299.9 387.9 301.0 388.5 300.0 389.2 301.2 389.4 302.3 389.9 304.4 390.0 308.0 390.1 308.7 390.9 307.0 391.1 307.4 391.5 310.0 392.2 310.0 392.0 310.6 392.3 311.8 393.0 313.0 393.4 312.6 393.5 312.9 394.2 312.1 394.9 312.8 395.0 313.0 395.3 315.7 395.8 315.0 396.0 314.4 396.5 316.0 396.8 312.7 397.4 313.0 397.7 311.4 398.0 310.0 398.5 309.8 399.0 307.2 399.0 305.0 399.3 306.3 399.7 312.7 400.0 313.0 400.5 314.7 400.9 315.0 401.0 315.0 401.5 317.0 401.9 317.5 402.0 313.6 402.6 313.4 403.0 313.0 403.7 312.1 403.6 313.8 404.2 314.2 404.4 313.0 405.0 314.0 405.5 311.1 406.0 312.5 406.0 312.2 406.7 313.1 407.0 312.0 407.0 311.3 408.0 311.2 407.8 313.9 408.4 312.9 409.0 314.0 409.7 314.7 409.9 314.5 410.5 313.7 410.7 313.1 411.0 315.0 411.6 313.6 411.9 313.6 412.4 314.2 412.6 313.9 412.8 314.5 413.5 314.5 413.5 313.3 414.4 313.4 414.6 310.2 415.1 312.1 415.5 311.0 415.7 309.1 416.1 309.8 416.6 311.2 417.0 310.0 417.0 309.0 417.8 309.0 418.4 310.1 418.5 310.0 418.9 309.6 418.9 310.1 419.5 308.1 420.0 308.0 420.5 313.0 421.2 312.8 421.1 316.7 421.4 319.6 421.7 325.6 422.2 324.4 422.3 324.5 422.5 324.0 423.3 323.3 423.8 323.8 423.7 325.7 424.7 326.3 425.0 325.3 425.0 325.4 425.6 325.6 425.6 325.4 426.6 324.7 426.9 324.5 426.7 323.5 427.4 323.5 427.8 324.4 428.5 322.8 428.7 323.4 428.5 325.3 429.5 324.6 429.3 323.0 430.0 322.2 430.1 321.6 431.0 323.1 431.0 321.6 431.5 321.5 431.5 320.2 432.2 321.1 432.8 321.2 433.0 319.9 433.2 321.4 434.0 319.3 434.3 321.0 434.4 320.0 434.5 320.3 435.6 321.2 435.5 321.9 436.1 323.3 436.6 322.4 437.0 324.8 437.1 323.6 437.6 322.4 438.2 324.2 438.7 322.4 438.9 323.9 439.1 322.4 439.7 324.2 440.2 323.8 440.2 324.3 441.2 322.4 441.4 323.8 441.6 322.4 442.2 323.3 442.7 323.8 443.3 321.8 443.4 322.3 443.9 322.8 444.4 322.9 444.3 323.7 444.8 321.3 445.0 320.9 445.6 321.7 446.1 315.6 446.7 313.5 446.8 313.6 447.2 310.0 447.8 310.9 447.7 310.0 448.3 307.8 449.0 304.1 449.1 302.5 449.4 302.2 449.6 299.9 450.0 301.3 450.6 301.8 451.1 300.6 451.5 301.6 451.6 299.4 451.8 300.7 452.3 301.1 453.0 299.8 453.3 299.4 453.8 300.1 453.9 299.7 454.1 300.4 455.2 301.2 455.3 302.6 455.6 302.2 455.8 302.3 456.8 304.2 457.0 303.9 457.2 306.1 457.4 307.0 457.7 304.6 458.1 305.4 458.9 305.6 458.9 303.1 459.6 297.1 460.0 296.1 460.8 295.1 460.9 297.1 461.2 297.2 461.7 297.8 461.9 301.2 462.5 302.1 462.8 301.1 463.3 299.6 463.5 299.6 464.4 299.6 464.4 300.6 465.2 301.3 465.1 302.0 465.6 303.0 466.1 303.3 466.8 306.3 466.6 304.0 467.5 306.1 467.8 306.7 468.3 312.2 469.1 309.5 469.2 310.2 469.4 308.9 470.2 305.5 470.3 301.1 470.6 297.8 471.1 290.0 471.8 286.3 472.0 285.0 472.2 285.6 472.5 285.6 473.0 283.7 473.3 284.2 474.0 284.0 474.6 283.7 474.6 283.4 475.0 285.1 475.9 284.6 476.0 283.0 476.1 285.8 476.8 282.0 477.5 286.1 477.7 286.1 478.0 285.0 478.7 283.8 478.8 284.4 479.0 283.3 479.2 282.7 480.0 283.0 480.0 280.8 481.0 277.6 481.0 278.0 481.1 276.9 481.6 278.5 481.9 277.6 482.5 276.0 482.9 275.7 482.9 275.9 484.0 280.1 484.0 279.0 484.5 284.9 484.4 285.5 485.0 286.0 485.2 285.4 485.5 286.5 486.5 284.9 486.5 287.0 487.2 287.5 487.5 283.9 487.5 280.0 487.5 281.3 488.7 280.4 488.3 279.3 488.8 281.0 489.5 281.0 489.5 280.5 490.0 283.2 490.6 281.8 491.0 284.0 491.4 285.6 491.5 285.6 492.3 288.0 492.5 288.0 492.7 290.0 493.4 289.4 493.7 289.1 494.2 288.8 494.5 289.0 495.1 289.9 495.1 289.9 495.4 287.9 496.3 288.5 496.5 289.0 496.5 287.2 497.5 288.7 497.9 287.1 498.0 288.0 498.7 286.5 498.7 285.9 498.9 285.8 499.5 284.0 500.1 284.6 500.1 285.8 500.7 288.2 501.0 289.0 501.4 291.4 501.8 290.6 502.5 292.5 502.9 293.0 503.0 292.0 503.3 291.7 504.0 294.0 504.5 294.0 504.5 293.0 504.8 295.3 505.2 293.0 505.5 295.0 505.5 293.6 506.0 293.9 506.3 292.0 507.0 291.0 507.0 287.0 507.3 285.8 508.0 279.0 508.0 278.0 508.8 275.6 509.3 273.3 509.5 274.0 509.6 273.5 509.9 277.0 510.3 274.7 511.0 277.0 511.2 274.4 511.5 275.8 512.3 275.0 512.9 275.7 513.0 275.0 513.6 276.5 513.5 277.1 514.1 277.1 514.5 273.9 515.0 276.0 515.3 276.0 516.2 273.4 516.0 274.4 516.5 272.5 517.0 273.5 517.6 272.4 518.0 276.7 518.0 277.0 518.0 278.8 518.8 275.9 519.0 280.1 519.5 278.2 520.0 279.0 520.4 278.1 520.5 278.1 520.8 277.9 521.3 280.2 522.0 280.0 522.7 282.6 522.9 280.6 523.5 282.1 523.2 278.9 524.0 281.5 524.5 280.1 524.6 280.1 525.3 279.9 525.4 279.9 526.0 281.0 526.7 278.4 526.6 279.1 526.8 278.2 527.5 278.5 528.0 281.1 528.1 281.9 528.6 280.3 529.0 281.0 529.0 280.1 529.4 280.6 530.0 281.0 530.5 291.0 530.7 290.6 531.0 292.0 531.9 292.0 532.0 291.0 532.5 292.0 532.6 289.9 533.4 289.9 533.7 289.9 534.0 291.0 534.4 289.8 534.5 288.1 535.1 288.2 535.5 286.0 535.4 286.4 536.0 290.3 536.5 291.0 536.9 292.1 537.3 291.0 537.5 290.9 538.3 293.5 538.5 292.5 539.2 293.9 539.2 293.9 539.6 295.0 540.0 294.0 540.6 294.0 541.2 293.3 541.4 292.4 541.5 291.7 542.0 290.0 542.5 290.8 543.1 287.4 543.2 286.9 543.8 287.8 544.0 288.0 544.4 286.9 545.1 288.8 544.9 287.1 545.8 289.3 546.0 290.0 546.5 289.2 546.9 285.9 547.1 287.5 547.7 288.1 548.0 287.0 548.3 285.6 549.0 285.6 549.0 286.9 549.5 285.6 549.8 287.7 550.3 287.6 550.7 285.6 551.1 286.7 551.2 286.7 552.0 287.8 552.7 286.4 552.8 286.7 553.0 284.8 553.9 285.2 553.9 282.2 554.0 279.0 554.2 277.8 555.0 278.9 555.0 281.2 556.1 280.4 556.1 283.3 556.6 279.0 556.7 276.7 556.8 266.7 557.1 261.0 557.5 261.0 557.8 262.2 558.1 260.6 558.7 259.9 559.1 259.9 559.4 261.1 559.8 262.3 560.1 262.3 560.6 262.0 561.3 258.8 561.3 258.8 561.7 260.0 562.5 256.8 562.3 259.6 562.5 256.6 563.0 257.2 563.5 261.2 563.9 257.8 564.0 256.5 564.9 257.2 565.0 253.3 565.8 253.1 565.5 256.8 566.1 256.7 566.4 254.5 566.7 252.0 567.1 252.7 567.8 252.2 568.1 251.0 569.0 251.0 568.9 252.2 569.4 253.3 570.1 252.1 569.9 251.0 570.5 254.3 571.1 251.1 571.6 252.3 571.6 247.8 572.2 248.9 572.3 244.3 572.8 245.6 572.9 237.2 573.4 234.6 573.7 228.0 574.0 228.3 574.4 229.4 575.0 230.9 574.9 232.7 575.6 232.8 576.1 241.7 576.5 240.7 577.1 238.3 577.2 235.0 577.3 233.7 577.7 233.7 578.6 236.3 578.9 237.2 579.1 233.0 579.3 233.3 580.0 230.6 580.7 232.8 580.8 230.2 581.2 230.9 581.7 232.8 582.1 238.4 582.8 238.1 582.8 237.2 583.0 232.3 583.2 232.9 583.9 234.0 584.4 227.2 585.1 228.0 585.3 231.5 585.6 232.8 586.3 227.8 586.1 221.4 586.7 222.8 587.0 223.2 587.3 225.2 587.8 227.2 588.3 215.0 588.9 222.1 588.9 232.8 589.1 231.4 589.5 234.0 590.6 234.3 590.6 236.1 590.8 238.4 591.4 238.1 591.7 239.7 592.2 241.7 592.2 243.5 592.8 246.7 593.5 244.6 593.4 241.1 593.8 240.7 594.4 237.2 595.0 236.1 595.1 235.1 595.3 235.2 596.1 231.7 596.3 234.1 596.9 233.5 597.6 231.8 597.8 232.8 598.0 231.2 598.7 227.8 598.9 227.2 599.0 220.0 600.0 225.4 600.0 219.4 600.3 215.0 600.6 212.8 601.1 207.2 601.2 205.4 602.2 203.6 602.2 202.8 602.6 201.4 603.0 202.5 603.3 205.0 603.4 205.0 604.0 204.0 604.4 201.7 604.7 201.6 605.0 203.0 605.5 189.0 605.7 185.2 606.3 188.0 606.5 180.0 607.0 172.0 607.2 168.2 607.3 165.9 608.0 165.0 608.2 163.3 608.8 162.9 609.0 152.0 609.3 153.7 609.8 151.4 610.0 145.6 610.5 143.0 610.7 141.4 611.1 141.5 611.5 139.2 612.0 131.0 612.6 142.2 613.0 138.2 613.0 145.0 613.0 149.0 613.9 152.4 614.1 151.3 614.5 155.0 615.0 167.0 615.5 158.4 615.9 154.2 616.0 150.0 616.2 143.5 616.4 140.5 617.0 139.0 617.7 136.4 617.3 137.0 618.0 137.5 618.0 135.7 618.6 143.4 619.1 148.3 619.7 152.5 620.0 152.0 620.1 150.4 620.8 148.8 621.0 143.0 621.1 136.5 621.5 132.2 622.0 134.0 622.0 137.1 622.6 141.5 622.8 135.2 623.5 142.0 623.5 147.1 624.0 144.5 624.5 151.0 625.0 172.0 625.5 177.0 626.0 168.0 626.5 158.0 626.6 159.7 627.6 159.7 627.8 155.9 628.0 154.0 628.3 154.5 628.6 157.1 628.8 152.8 629.5 161.0 630.0 167.0 630.7 174.9 630.8 178.3 631.0 185.0 631.4 179.4 631.6 169.0 632.0 170.0 632.3 171.6 632.8 170.4 633.3 169.0 633.5 166.0 633.5 167.2 634.1 167.2 634.7 164.6 635.0 172.0 635.4 173.6 635.5 171.8 636.1 173.6 636.5 172.0 637.0 159.0 637.1 158.5 637.9 154.2 638.3 153.9 638.5 150.0 638.8 148.2 639.1 148.1 639.5 143.0 639.7 144.8 640.6 141.9 640.5 144.8 641.0 142.0 641.6 146.8 641.5 140.2 642.3 141.4 642.5 145.0 643.1 140.1 643.5 139.9 643.5 143.6 644.0 141.0 644.1 142.3 644.5 142.3 645.3 139.8 645.5 137.0 645.7 137.6 646.1 141.3 646.5 143.0 646.5 142.6 646.8 146.4 647.5 146.0 647.5 154.2 648.4 150.9 648.3 155.7 649.0 154.0 649.4 155.6 649.8 154.4 649.8 158.1 650.7 161.7 651.0 160.0 651.7 159.3 651.5 159.7 651.8 159.8 652.5 163.0 653.0 178.0 653.6 179.6 653.5 177.9 654.0 175.0 654.6 174.5 655.0 174.4 655.0 167.0 655.6 176.0 655.9 183.1 656.0 183.0 656.6 187.2 656.5 192.7 657.0 195.0 657.3 190.4 658.0 192.3 658.2 188.0 658.5 185.0 658.9 180.7 659.5 176.6 659.5 169.0 660.2 162.8 659.9 161.3 660.5 163.0 660.7 159.8 661.3 156.9 661.5 156.0 661.6 153.0 661.8 148.2 662.5 150.0 662.5 152.2 663.4 149.7 663.2 152.7 664.0 153.0 664.6 154.7 664.6 148.2 665.0 150.0 665.5 143.5 666.0 158.0 666.3 156.6 666.6 161.7 667.0 160.0 667.5 170.0 668.0 173.7 668.4 182.0 668.5 184.0 669.0 195.0 669.5 173.0 669.7 173.5 670.1 169.0 670.5 168.0 670.6 167.1 670.8 170.3 671.5 174.0 672.2 174.8 672.5 182.0 672.5 182.0 673.2 183.6 673.3 173.4 673.8 176.1 674.0 175.0 674.5 173.1 675.1 172.1 675.1 176.4 675.5 172.0 676.0 162.0 676.2 163.8 677.0 164.9 677.0 170.0 677.5 173.1 677.7 173.7 678.0 177.6 678.5 176.0 678.9 181.6 679.3 178.4 679.5 184.8 680.0 186.0 680.6 192.3 680.7 196.8 681.0 200.0 681.1 201.2 681.3 198.0 682.0 190.0 682.3 185.4 682.7 182.6 683.0 180.0 683.1 179.4 683.8 181.6 684.1 176.7 684.5 176.0 684.5 173.3 685.2 168.3 685.5 170.0 686.0 169.4 686.6 166.8 686.8 163.2 687.0 163.0 687.3 164.7 687.5 164.7 688.3 164.7 688.5 162.0 688.5 160.0 689.0 158.2 689.5 156.0 689.7 157.2 689.9 164.7 690.5 163.0 690.7 167.6 691.5 169.0 691.5 173.0 692.0 168.9 692.6 173.7 692.9 168.3 693.0 170.0 693.2 175.1 693.9 180.6 694.0 179.0 694.0 174.5 694.6 168.3 695.0 170.0 695.5 166.5 695.3 163.3 696.0 165.0 696.5 155.0 696.9 150.0 697.4 149.4 697.5 149.0 698.0 150.7 698.0 150.7 698.5 147.0 699.1 151.6 699.2 154.7 699.5 153.0 700.0 157.0 700.0 156.0 700.9 153.1 701.0 150.0 701.3 145.0 701.8 131.5 702.0 137.8 702.5 140.0 703.0 146.4 703.5 142.8 703.5 145.0 704.0 146.6 704.7 143.5 704.8 146.0 705.1 122.0 705.1 119.6 705.9 121.5 706.0 109.0 706.5 106.5 706.9 108.5 707.0 81.0 707.7 82.4 707.5 81.4 708.2 80.5 708.2 72.5 708.1 71.4 707.5 72.5 707.5 63.5" transform="translate(0.5,0)"/></g>
</svg>
</body></html>
